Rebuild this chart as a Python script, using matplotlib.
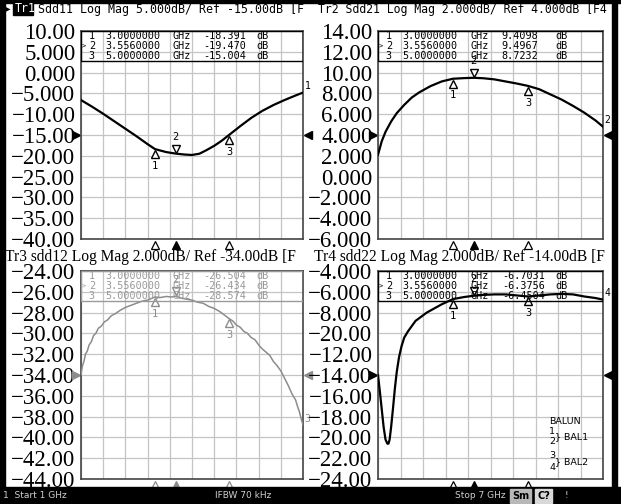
import matplotlib
matplotlib.use("Agg")
import matplotlib.pyplot as plt
import numpy as np
from matplotlib.patches import Rectangle
from matplotlib.transforms import Affine2D, offset_copy, blended_transform_factory

# ---- data ----
f_start, f_stop = 1.0, 7.0
marker_freq = [3.0, 3.556, 5.0]

s11_freq = [1.0, 1.3, 1.6, 1.9, 2.2, 2.5, 2.8, 3.0, 3.3, 3.556, 3.8, 4.0,
            4.2, 4.4, 4.6, 4.8, 5.0, 5.3, 5.6, 5.9, 6.2, 6.5, 6.8, 7.0]
s11_db = [-6.6, -8.2, -9.9, -11.7, -13.5, -15.3, -17.2, -18.39, -19.1, -19.47, -19.7, -19.8,
          -19.5, -18.6, -17.6, -16.4, -15.0, -12.9, -10.9, -9.2, -7.8, -6.6, -5.5, -4.8]

s21_freq = [1.0, 1.1, 1.2, 1.35, 1.5, 1.7, 1.9, 2.1, 2.4, 2.7, 3.0, 3.3, 3.556,
            3.8, 4.1, 4.4, 4.7, 5.0, 5.3, 5.6, 5.9, 6.2, 6.5, 6.8, 7.0]
s21_db = [2.1, 3.4, 4.3, 5.3, 6.1, 6.9, 7.6, 8.1, 8.7, 9.15, 9.41, 9.47, 9.50,
          9.46, 9.35, 9.15, 8.95, 8.72, 8.4, 7.9, 7.4, 6.8, 6.15, 5.4, 4.8]

s12_freq = [1.0, 1.04, 1.08, 1.12, 1.17, 1.22, 1.28, 1.34, 1.4, 1.47, 1.55, 1.63,
            1.72, 1.82, 1.93, 2.05, 2.2, 2.35, 2.5, 2.65, 2.8, 3.0, 3.15, 3.3,
            3.45, 3.556, 3.7, 3.85, 4.0, 4.15, 4.3, 4.45, 4.6, 4.75, 4.9, 5.0,
            5.1, 5.2, 5.3, 5.4, 5.5, 5.6, 5.7, 5.8, 5.9, 6.0, 6.1, 6.2,
            6.3, 6.4, 6.5, 6.6, 6.7, 6.8, 6.85, 6.9, 6.95, 7.0]
s12_db = [-34.0, -33.1, -32.7, -32.0, -31.7, -31.1, -30.8, -30.2, -30.0, -29.5, -29.3, -28.9,
          -28.7, -28.3, -28.1, -27.8, -27.5, -27.3, -27.1, -26.9, -26.8, -26.5, -26.55, -26.45,
          -26.5, -26.43, -26.6, -26.7, -26.8, -27.0, -27.1, -27.4, -27.6, -27.9, -28.3, -28.57,
          -28.8, -29.2, -29.4, -29.8, -30.0, -30.4, -30.6, -31.1, -31.5, -31.8, -32.1, -32.7,
          -33.1, -33.6, -34.3, -35.0, -35.8, -36.4, -37.0, -37.5, -38.2, -38.8]

s22_freq = [1.0, 1.05, 1.1, 1.15, 1.2, 1.25, 1.28, 1.31, 1.35, 1.4, 1.45, 1.5,
            1.56, 1.63, 1.7, 1.8, 1.9, 2.0, 2.15, 2.3, 2.5, 2.7, 3.0, 3.3,
            3.556, 3.8, 4.1, 4.4, 4.7, 5.0, 5.3, 5.6, 5.9, 6.2, 6.5, 6.8, 7.0]
s22_db = [-14.0, -15.6, -17.3, -19.0, -20.2, -20.6, -20.6, -20.2, -19.0, -17.2, -15.3, -13.7,
          -12.3, -11.2, -10.4, -9.8, -9.3, -8.8, -8.4, -8.0, -7.6, -7.2, -6.70, -6.5,
          -6.38, -6.3, -6.25, -6.25, -6.35, -6.45, -6.35, -6.25, -6.2, -6.25, -6.45, -6.6, -6.75]

s11_marker_db = [-18.391, -19.470, -15.004]
s21_marker_db = [9.4098, 9.4967, 8.7232]
s12_marker_db = [-26.504, -26.434, -28.574]
s22_marker_db = [-6.7031, -6.3756, -6.4504]

s11_ylabels = ["10.00", "5.000", "0.000", "\u22125.000", "\u221210.00", "\u221215.00",
               "\u221220.00", "\u221225.00", "\u221230.00", "\u221235.00", "\u221240.00"]
s21_ylabels = ["14.00", "12.00", "10.00", "8.000", "6.000", "4.000",
               "2.000", "0.000", "\u22122.000", "\u22124.000", "\u22126.000"]
s12_ylabels = ["\u221224.00", "\u221226.00", "\u221228.00", "\u221230.00", "\u221232.00", "\u221234.00",
               "\u221236.00", "\u221238.00", "\u221240.00", "\u221242.00", "\u221244.00"]
s22_ylabels = ["\u22124.000", "\u22126.000", "\u22128.000", "\u221220.00", "\u221212.00", "\u221214.00",
               "\u221216.00", "\u221218.00", "\u221220.00", "\u221222.00", "\u221224.00"]

W, H = 621, 504
fig = plt.figure(figsize=(W / 100, H / 100), dpi=100)
fig.patch.set_facecolor("white")
pix = Affine2D().scale(1 / W, -1 / H).translate(0, 1) + fig.transFigure

def rect_px(x0, y0, x1, y1, **kw):
    fig.add_artist(Rectangle((x0, y1), x1 - x0, y0 - y1, transform=pix, **kw))

MONO = "DejaVu Sans Mono"
SERIF = "Liberation Serif"

panels = [
    dict(box=(81, 31, 303, 239), freq=s11_freq, db=s11_db, top=10, div=5, ref=-15,
         labels=s11_ylabels, mdb=s11_marker_db, fmt="{:.3f}", tr="1", color="black"),
    dict(box=(378, 31, 603, 239), freq=s21_freq, db=s21_db, top=14, div=2, ref=4,
         labels=s21_ylabels, mdb=s21_marker_db, fmt="{:.4f}", tr="2", color="black"),
    dict(box=(81, 271, 303, 479), freq=s12_freq, db=s12_db, top=-24, div=2, ref=-34,
         labels=s12_ylabels, mdb=s12_marker_db, fmt="{:.3f}", tr="3", color="#8c8c8c"),
    dict(box=(378, 271, 603, 479), freq=s22_freq, db=s22_db, top=-4, div=2, ref=-14,
         labels=s22_ylabels, mdb=s22_marker_db, fmt="{:.4f}", tr="4", color="black"),
]

for p in panels:
    x0, y0, x1, y1 = p["box"]
    ax = fig.add_axes([x0 / W, 1 - y1 / H, (x1 - x0) / W, (y1 - y0) / H])
    c = p["color"]
    bottom = p["top"] - 10 * p["div"]
    ax.set_xlim(f_start, f_stop)
    ax.set_ylim(bottom, p["top"])
    ax.set_xticks(np.linspace(f_start, f_stop, 11))
    ax.set_yticks(np.linspace(p["top"], bottom, 11))
    ax.set_xticklabels([])
    ax.set_yticklabels(p["labels"], fontfamily=SERIF, fontsize=16.5)
    ax.tick_params(length=0, pad=4)
    ax.grid(color="#c4c4c4", lw=0.9)
    for s in ax.spines.values():
        s.set_color("#444444")
        s.set_linewidth(1.2)

    ax.plot(p["freq"], p["db"], color=c, lw=1.6 if c == "black" else 1.1, zorder=3)

    # markers on trace
    t_lo = offset_copy(ax.transData, fig=fig, x=0, y=-3.5, units="points")
    t_hi = offset_copy(ax.transData, fig=fig, x=0, y=3.5, units="points")
    t_nlo = offset_copy(ax.transData, fig=fig, x=0, y=-12, units="points")
    t_nhi = offset_copy(ax.transData, fig=fig, x=0, y=12, units="points")
    for i, (mf, mv) in enumerate(zip(marker_freq, p["mdb"])):
        if i == 1:
            ax.plot([mf], [mv], marker="v", ms=6, mfc="white", mec=c, mew=1,
                    transform=t_hi, clip_on=False, zorder=4)
            ax.text(mf, mv, "2", transform=t_nhi, ha="center", va="center",
                    fontsize=7.5, family=MONO, color=c, zorder=4)
        else:
            ax.plot([mf], [mv], marker="^", ms=6, mfc="white", mec=c, mew=1,
                    transform=t_lo, clip_on=False, zorder=4)
            ax.text(mf, mv, str(i + 1), transform=t_nlo, ha="center", va="center",
                    fontsize=7.5, family=MONO, color=c, zorder=4)

    # marker indicators under the graticule
    bt = offset_copy(blended_transform_factory(ax.transData, ax.transAxes),
                     fig=fig, x=0, y=-4, units="points")
    for i, mf in enumerate(marker_freq):
        ax.plot([mf], [0], marker="^", ms=5.5, mfc=c if i == 1 else "white",
                mec=c, mew=0.9, transform=bt, clip_on=False)

    # reference level arrows
    lt = offset_copy(blended_transform_factory(ax.transAxes, ax.transData),
                     fig=fig, x=-3.5, y=0, units="points")
    rt = offset_copy(blended_transform_factory(ax.transAxes, ax.transData),
                     fig=fig, x=3.5, y=0, units="points")
    ax.plot([0], [p["ref"]], marker=">", ms=6, color=c, transform=lt, clip_on=False)
    ax.plot([1], [p["ref"]], marker="<", ms=6, color=c, transform=rt, clip_on=False)

    # trace number at end of sweep
    et = offset_copy(ax.transData, fig=fig, x=1, y=1, units="points")
    ax.text(p["freq"][-1], p["db"][-1], p["tr"], transform=et, ha="left", va="bottom",
            fontsize=7, family=MONO, color=c, clip_on=False)

    # marker table
    tc = "#9a9a9a" if c != "black" else "black"
    ax.add_patch(Rectangle((0.0, 0.855), 1.0, 0.145, transform=ax.transAxes,
                           fill=False, ec=tc, lw=1.0, zorder=5))
    for i, (mf, mv) in enumerate(zip(marker_freq, p["mdb"])):
        yy = 0.975 - i * 0.048
        kw = dict(transform=ax.transAxes, va="center", fontsize=7.3, family=MONO,
                  color=tc, zorder=5)
        ax.text(0.035, yy, str(i + 1), **kw)
        if i == 1:
            ax.text(0.005, yy, ">", fontsize=5, transform=ax.transAxes, va="center",
                    family=MONO, color=tc)
        ax.text(0.11, yy, "{:.7f}".format(mf), **kw)
        ax.text(0.41, yy, "GHz", **kw)
        ax.text(0.55, yy, p["fmt"].format(mv), **kw)
        ax.text(0.79, yy, "dB", **kw)

# ---- titles ----
fig.text(3, 9, "\u25b6", transform=pix, fontsize=7, va="center", family="DejaVu Sans")
rect_px(13, 3, 33, 15, color="black")
fig.text(15, 9, "Tr1", transform=pix, fontsize=8.4, va="center", family=MONO, color="white")
fig.text(38, 9, "Sdd11 Log Mag 5.000dB/ Ref -15.00dB [F", transform=pix,
         fontsize=8.4, va="center", family=MONO)
fig.text(318, 9, "Tr2 Sdd21 Log Mag 2.000dB/ Ref 4.000dB [F4", transform=pix,
         fontsize=8.3, va="center", family=MONO)
fig.text(5, 257, "Tr3 sdd12 Log Mag 2.000dB/ Ref -34.00dB [F", transform=pix,
         fontsize=11.2, va="center", family=SERIF)
fig.text(314, 257, "Tr4 sdd22 Log Mag 2.000dB/ Ref -14.00dB [F", transform=pix,
         fontsize=11.2, va="center", family=SERIF)

# BALUN legend
fig.text(549, 421, "BALUN", transform=pix, fontsize=6.8, va="center", family="DejaVu Sans")
for txt, yy in [("1", 431), ("2", 442), ("3", 456), ("4", 467)]:
    fig.text(549, yy, txt, transform=pix, fontsize=6.8, va="center", family="DejaVu Sans")
fig.text(555, 437, "} BAL1", transform=pix, fontsize=6.8, va="center", family="DejaVu Sans")
fig.text(555, 462, "} BAL2", transform=pix, fontsize=6.8, va="center", family="DejaVu Sans")

# ---- screen frame and status bar ----
rect_px(0, 0, W, 3, color="black")
rect_px(0, 0, 5, H, color="black")
rect_px(612, 0, 617, H, color="black")
rect_px(0, 487, W, H, color="black")
sb = dict(transform=pix, fontsize=6.5, va="center", family="DejaVu Sans", color="#cfcfcf")
fig.text(3, 496, "1  Start 1 GHz", **sb)
fig.text(215, 496, "IFBW 70 kHz", **sb)
fig.text(455, 496, "Stop 7 GHz", **sb)
rect_px(510, 489, 531, 503, color="#b8b8b8")
fig.text(512, 496, "Sm", transform=pix, fontsize=7, va="center", family="DejaVu Sans",
         weight="bold", color="black")
rect_px(535, 489, 552, 503, color="#d8d8d8")
fig.text(537, 496, "C?", transform=pix, fontsize=7, va="center", family="DejaVu Sans",
         weight="bold", color="black")
fig.text(565, 496, "!", **sb)

fig.savefig("out.png", dpi=100)
